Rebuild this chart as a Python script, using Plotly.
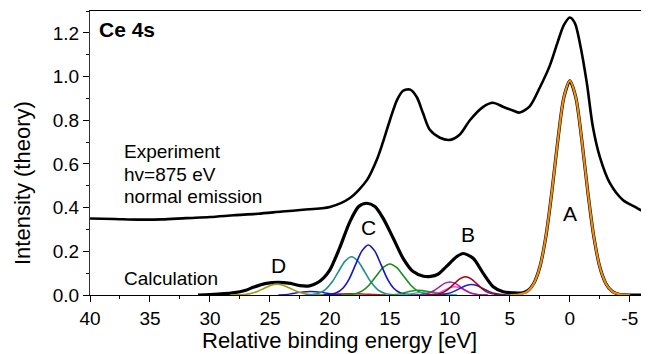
import plotly.graph_objects as go

# ---------------- data ----------------
exp_x = [40, 38, 36, 34, 32, 30, 28, 26, 24, 22.25, 20, 18.33, 16.9, 16.1, 15.6, 15.0,
         14.4, 13.9, 13.3, 12.75, 12.25, 11.67, 10.83, 10.0, 9.17, 8.33, 7.25, 6.42,
         5.58, 4.75, 4.17, 3.33, 2.5, 1.67, 1.0, 0.5, 0, -0.42, -0.83, -1.42, -1.92,
         -2.5, -3.33, -4.42, -5.58, -6.6]
exp_y = [0.35, 0.348, 0.345, 0.346, 0.352, 0.357, 0.365, 0.372, 0.382, 0.39, 0.403,
         0.444, 0.527, 0.618, 0.696, 0.80, 0.893, 0.935, 0.94, 0.905, 0.834, 0.756,
         0.72, 0.71, 0.735, 0.80, 0.86, 0.88, 0.862, 0.845, 0.835, 0.865, 0.95, 1.05,
         1.16, 1.235, 1.27, 1.245, 1.155, 0.97, 0.77, 0.632, 0.513, 0.435, 0.399, 0.366]

calc_x = [31, 30, 28.1, 27, 26.4, 25.3, 24.3, 23.3, 22.5, 21.7, 21.1, 20.5, 20, 19.2,
          18.33, 17.6, 16.94, 16.25, 15.56, 14.72, 13.9, 13.06, 12.2, 11.6, 11.0, 10.3,
          9.44, 8.9, 8.06, 7.22, 6.39, 5.56, 4.72, 4.0, 3.5, 3.0, 2.5, 2.0, 1.5, 1.0,
          0.5, 0, -0.5, -1.0, -1.5, -2.0, -2.5, -3.0, -3.5, -4.0, -4.5, -5.0, -6.6]
calc_y = [0, 0.002, 0.01, 0.022, 0.035, 0.053, 0.058, 0.053, 0.043, 0.042, 0.054, 0.08,
          0.115, 0.214, 0.336, 0.405, 0.42, 0.405, 0.351, 0.26, 0.168, 0.107, 0.086,
          0.085, 0.095, 0.13, 0.175, 0.19, 0.168, 0.099, 0.038, 0.015, 0.01, 0.009,
          0.02, 0.054, 0.128, 0.267, 0.471, 0.708, 0.904, 0.98, 0.904, 0.708, 0.471,
          0.267, 0.128, 0.053, 0.018, 0.005, 0.001, 0, 0]

peakA_x = [5.0, 4.5, 4.0, 3.5, 3.0, 2.5, 2.0, 1.5, 1.0, 0.5, 0, -0.5, -1.0, -1.5,
           -2.0, -2.5, -3.0, -3.5, -4.0, -4.5, -5.0]
peakA_y = [0, 0.001, 0.005, 0.018, 0.053, 0.128, 0.267, 0.471, 0.708, 0.904, 0.98,
           0.904, 0.708, 0.471, 0.267, 0.128, 0.053, 0.018, 0.005, 0.001, 0]

peakD_x = [28.25, 27.7, 27.15, 26.6, 26.05, 25.5, 24.95, 24.4, 23.85, 23.3, 22.75,
           22.2, 21.65, 21.1, 20.55]
peakD_y = [0, 0.0005, 0.002, 0.007, 0.016, 0.030, 0.044, 0.05, 0.044, 0.030, 0.016,
           0.007, 0.002, 0.0005, 0]

blueD_x = [24.3, 23.4, 22.5, 21.6, 20.7, 19.8, 18.9]
blueD_y = [0, 0.004, 0.012, 0.016, 0.012, 0.004, 0]

redC_x = [21.3, 20.3, 19.3, 18.3, 17.3, 16.3, 15.3]
redC_y = [0, 0.002, 0.005, 0.006, 0.005, 0.002, 0]

tealC_x = [22.05, 21.5, 20.95, 20.4, 19.85, 19.3, 18.75, 18.2, 17.65, 17.1, 16.55,
           16.0, 15.45, 14.9, 14.35]
tealC_y = [0, 0.002, 0.008, 0.024, 0.057, 0.106, 0.154, 0.175, 0.154, 0.106, 0.057,
           0.024, 0.008, 0.002, 0]

blueC_x = [20.51, 19.98, 19.45, 18.92, 18.39, 17.86, 17.33, 16.8, 16.27, 15.74, 15.21,
           14.68, 14.15, 13.62, 13.09]
blueC_y = [0, 0.003, 0.010, 0.031, 0.074, 0.139, 0.202, 0.229, 0.202, 0.139, 0.074,
           0.031, 0.010, 0.003, 0]

greenC_x = [19.025, 18.45, 17.875, 17.3, 16.725, 16.15, 15.575, 15.0, 14.425, 13.85,
            13.275, 12.7, 12.125, 11.55, 10.975]
greenC_y = [0, 0.002, 0.006, 0.019, 0.046, 0.086, 0.125, 0.142, 0.125, 0.086, 0.046,
            0.019, 0.006, 0.002, 0]

greenS_x = [15.0, 14.2, 13.4, 12.6, 11.8, 11.0, 10.2]
greenS_y = [0, 0.005, 0.016, 0.022, 0.016, 0.005, 0]

cyanS_x = [14.2, 13.4, 12.6, 11.8, 11.0, 10.2, 9.4]
cyanS_y = [0, 0.004, 0.011, 0.015, 0.011, 0.004, 0]

magB_x = [13.15, 12.7, 12.25, 11.8, 11.35, 10.9, 10.45, 10.0, 9.55, 9.1, 8.65, 8.2,
          7.75, 7.3, 6.85]
magB_y = [0, 0.0007, 0.0026, 0.008, 0.0195, 0.036, 0.053, 0.06, 0.053, 0.036, 0.0195,
          0.008, 0.0026, 0.0007, 0]

pinkB_x = [12.4, 12.0, 11.6, 11.2, 10.8, 10.4, 10.0, 9.6, 9.2, 8.8, 8.4, 8.0, 7.6,
           7.2, 6.8]
pinkB_y = [0, 0.0004, 0.0017, 0.0051, 0.0124, 0.023, 0.0335, 0.038, 0.0335, 0.023,
           0.0124, 0.0051, 0.0017, 0.0004, 0]

redB_x = [12.025, 11.55, 11.075, 10.6, 10.125, 9.65, 9.175, 8.7, 8.225, 7.75, 7.275,
          6.8, 6.325, 5.85, 5.375]
redB_y = [0, 0.001, 0.004, 0.011, 0.027, 0.051, 0.074, 0.084, 0.074, 0.051, 0.027,
          0.011, 0.004, 0.001, 0]

blueB_x = [11.7, 11.2, 10.7, 10.2, 9.7, 9.2, 8.7, 8.2, 7.7, 7.2, 6.7, 6.2, 5.7, 5.2, 4.7]
blueB_y = [0, 0.0005, 0.0021, 0.0065, 0.0156, 0.029, 0.042, 0.048, 0.042, 0.029,
           0.0156, 0.0065, 0.0021, 0.0005, 0]

x_tick_vals = [40, 35, 30, 25, 20, 15, 10, 5, 0, -5]
x_tick_text = ["40", "35", "30", "25", "20", "15", "10", "5", "0", "-5"]
y_tick_vals = [0.0, 0.2, 0.4, 0.6, 0.8, 1.0, 1.2]
y_tick_text = ["0.0", "0.2", "0.4", "0.6", "0.8", "1.0", "1.2"]

FONT = "Liberation Sans, Arial, sans-serif"

fig = go.Figure()


def add_line(x, y, color, width):
    fig.add_trace(go.Scatter(x=x, y=y, mode="lines",
                             line=dict(color=color, width=width, shape="spline", smoothing=0.8),
                             showlegend=False, hoverinfo="skip"))


add_line(exp_x, exp_y, "#000000", 2.6)
add_line(calc_x, calc_y, "#000000", 3.2)
add_line(redC_x, redC_y, "#d01010", 1.5)
add_line(blueD_x, blueD_y, "#1a1acc", 1.5)
add_line(peakD_x, peakD_y, "#9e9a10", 1.6)
add_line(tealC_x, tealC_y, "#1f9090", 1.6)
add_line(greenC_x, greenC_y, "#1a8c1a", 1.6)
add_line(blueC_x, blueC_y, "#1515c0", 1.6)
add_line(cyanS_x, cyanS_y, "#20b0b0", 1.4)
add_line(greenS_x, greenS_y, "#1a9a1a", 1.4)
add_line(pinkB_x, pinkB_y, "#ff40ff", 1.4)
add_line(magB_x, magB_y, "#a020a0", 1.5)
add_line(blueB_x, blueB_y, "#2020c0", 1.5)
add_line(redB_x, redB_y, "#a00010", 1.5)
add_line(peakA_x, peakA_y, "#ee8a12", 2.2)

# page body has an 8px margin: figure is drawn 8px smaller and offset
W, H = 641, 346
ML, MT, MB = 82, 3, 59
PW, PH = W - ML, H - MT - MB


def px(xp):
    return (xp - 8 - ML) / PW


def py(yp):
    return (H - MB - (yp - 8)) / PH


ann = []
ann.append(dict(x=39.4, y=1.214, text="<b>Ce 4s</b>", xanchor="left", yanchor="middle",
                font=dict(size=21, color="black", family=FONT)))
for txt, yy in [("Experiment", 0.655), ("hv=875 eV", 0.55), ("normal emission", 0.449)]:
    ann.append(dict(x=37.35, y=yy, text=txt, xanchor="left", yanchor="middle",
                    font=dict(size=19, color="black", family=FONT)))
ann.append(dict(x=37.35, y=0.076, text="Calculation", xanchor="left", yanchor="middle",
                font=dict(size=19, color="black", family=FONT)))
for txt, xx, yy in [("A", 0.0, 0.375), ("B", 8.5, 0.275), ("C", 16.8, 0.31), ("D", 24.3, 0.137)]:
    ann.append(dict(x=xx, y=yy, text=txt, xanchor="center", yanchor="middle",
                    font=dict(size=21, color="black", family=FONT)))
ann.append(dict(xref="paper", yref="paper", x=px(339), y=py(340),
                text="Relative binding energy [eV]", showarrow=False,
                xanchor="center", yanchor="middle",
                font=dict(size=22, color="black", family=FONT)))
ann.append(dict(xref="paper", yref="paper", x=px(22), y=py(183),
                text="Intensity (theory)", showarrow=False, textangle=-90,
                xanchor="center", yanchor="middle",
                font=dict(size=22, color="black", family=FONT)))
for a in ann:
    a.setdefault("showarrow", False)

fig.update_layout(
    width=W, height=H,
    margin=dict(l=ML, r=0, t=MT, b=MB),
    paper_bgcolor="white", plot_bgcolor="white",
    font=dict(family=FONT, color="black"),
    annotations=ann,
    xaxis=dict(range=[40, -6.6], tickmode="array", tickvals=x_tick_vals, ticktext=x_tick_text,
               showgrid=False, zeroline=False, showline=True, linecolor="black", linewidth=1.3,
               mirror=True, ticks="outside", ticklen=6, tickwidth=1.3, tickcolor="black",
               tickfont=dict(size=19, family=FONT, color="black"),
               minor=dict(dtick=2.5, tick0=0, ticks="outside", ticklen=3, tickcolor="black")),
    yaxis=dict(range=[0, 1.3], tickmode="array", tickvals=y_tick_vals, ticktext=y_tick_text,
               showgrid=False, zeroline=False, showline=True, linecolor="#333333", linewidth=1.3,
               ticks="outside", ticklen=6, tickwidth=1.3, tickcolor="black",
               tickfont=dict(size=19, family=FONT, color="black"),
               minor=dict(dtick=0.1, tick0=0, ticks="outside", ticklen=3, tickcolor="black")),
)

fig.write_html("out.html")
